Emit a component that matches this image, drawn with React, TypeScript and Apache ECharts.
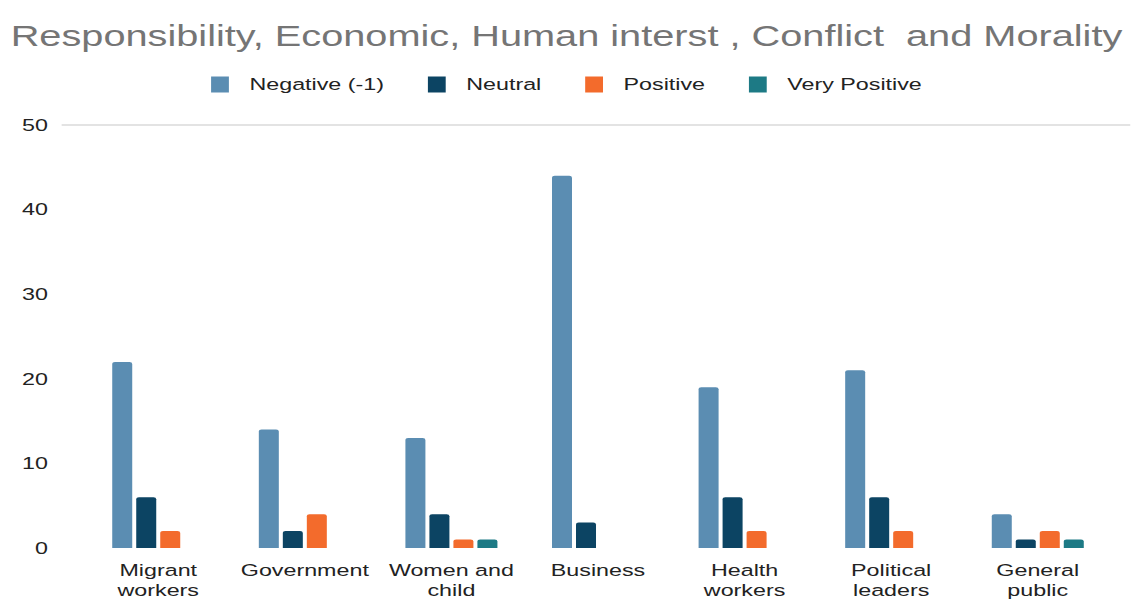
import React, { useEffect, useRef } from "react";
import * as echarts from "echarts";

const categories = [
  "Migrant\nworkers",
  "Government",
  "Women and\nchild",
  "Business",
  "Health\nworkers",
  "Political\nleaders",
  "General\npublic",
];
const seriesNames = ["Negative (-1)", "Neutral", "Positive", "Very Positive"];
const negative = [22, 14, 13, 44, 19, 21, 4];
const neutral = [6, 2, 4, 3, 6, 6, 1];
const positive = [2, 4, 1, 0, 2, 2, 2];
const veryPositive = [0, 0, 1, 0, 0, 0, 1];
const colors = ["#5b8db2", "#0c4463", "#f36b2c", "#1d7a85"];
const titleText = "Responsibility, Economic, Human interst , Conflict  and Morality";

const STRETCH = 1.37;
const NATIVE_W = Math.round(1133 / STRETCH);

export default function App() {
  const ref = useRef<HTMLDivElement>(null);
  useEffect(() => {
    if (!ref.current) return;
    const chart = echarts.init(ref.current, undefined, { renderer: "svg" });
    const values = [negative, neutral, positive, veryPositive];
    chart.setOption({
      animation: false,
      color: colors,
      textStyle: { fontFamily: "Liberation Sans, Arial, sans-serif" },
      title: {
        text: titleText,
        left: "center",
        top: 16,
        textStyle: { fontSize: 29, fontWeight: "normal", color: "#757575" },
      },
      legend: {
        top: 71,
        left: "center",
        itemWidth: 13,
        itemHeight: 16,
        itemGap: 32,
        icon: "rect",
        textStyle: { fontSize: 17, color: "#222", padding: [0, 0, 0, 10] },
        data: seriesNames,
      },
      grid: { left: 62, right: 16, top: 125, bottom: 52, containLabel: false },
      xAxis: {
        type: "category",
        data: categories,
        axisLine: { show: false },
        axisTick: { show: false },
        axisLabel: { fontSize: 17, color: "#222", margin: 12, lineHeight: 20, interval: 0 },
      },
      yAxis: {
        type: "value",
        min: 0,
        max: 50,
        interval: 10,
        axisLine: { show: false },
        axisTick: { show: false },
        splitLine: { show: false },
        axisLabel: { fontSize: 17, color: "#222", margin: 27 },
      },
      series: seriesNames.map((name, i) => ({
        name,
        type: "bar",
        data: values[i],
        barWidth: 14.6,
        barGap: "20%",
        itemStyle: { borderRadius: [2, 2, 0, 0] },
      })),
    });
    const y50 = chart.convertToPixel({ yAxisIndex: 0 }, 50) as number;
    chart.setOption({
      graphic: [
        {
          type: "line",
          shape: { x1: 45, y1: y50, x2: NATIVE_W - 2, y2: y50 },
          style: { stroke: "#c8c8c8", lineWidth: 1 },
        },
      ],
    });
    return () => chart.dispose();
  }, []);
  return (
    <div style={{ position: "fixed", left: 0, top: 0, width: 1133, height: 600, overflow: "hidden", background: "#fff" }}>
      <div
        ref={ref}
        style={{ width: NATIVE_W, height: 600, transform: `scaleX(${STRETCH})`, transformOrigin: "0 0" }}
      />
    </div>
  );
}
